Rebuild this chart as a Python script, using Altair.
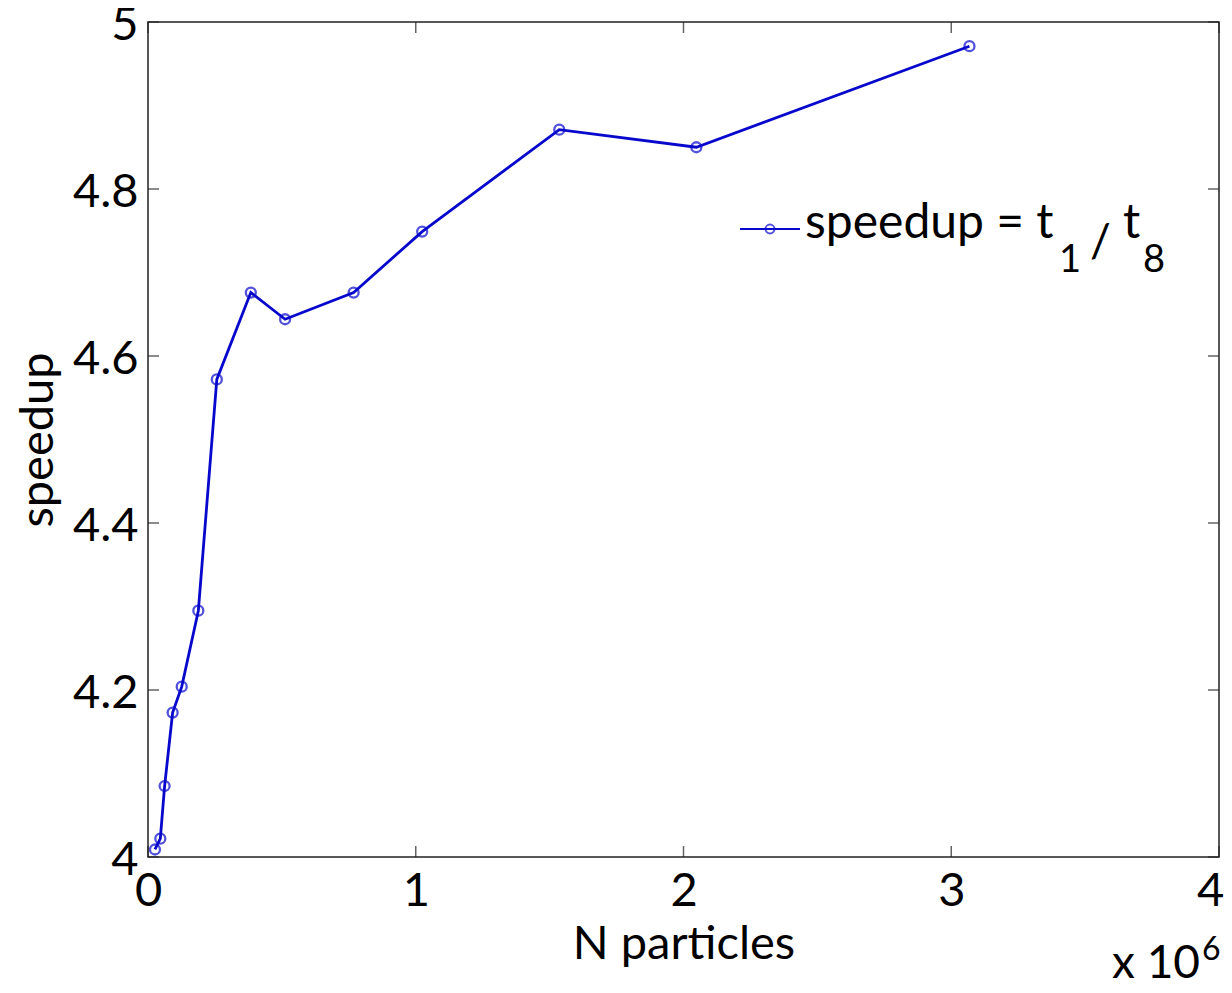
import altair as alt
import pandas as pd

# Data (N particles in units of 1e6, speedup)
n_particles = [0.026, 0.046, 0.062, 0.092, 0.126, 0.188, 0.257, 0.384, 0.512, 0.768, 1.024, 1.536, 2.048, 3.068]
speedup = [4.009, 4.022, 4.085, 4.173, 4.204, 4.295, 4.572, 4.676, 4.644, 4.676, 4.749, 4.871, 4.850, 4.971]

x_ticks = [0, 1, 2, 3, 4]
y_ticks = [4.0, 4.2, 4.4, 4.6, 4.8, 5.0]

W, H = 1071, 835
FONT = "Lato"
FS = 47
BLUE = "#0808cc"

df = pd.DataFrame({"n": n_particles, "s": speedup})
xt = pd.DataFrame({"v": x_ticks})
yt = pd.DataFrame({"v": y_ticks})

xscale = alt.Scale(domain=[0, 4], nice=False, zero=False)
yscale = alt.Scale(domain=[4, 5], nice=False, zero=False)

base = alt.Chart(df)

line = base.mark_line(color=BLUE, strokeWidth=2.8).encode(
    x=alt.X("n:Q", scale=xscale,
            axis=alt.Axis(values=x_ticks, format="d", title="N particles",
                          ticks=False, domain=False, grid=False, labelFlush=False,
                          labelOffset={"condition": {"test": "datum.value == 4", "value": -9}, "value": 0},
                          labelFont=FONT, labelFontSize=FS, labelColor="black",
                          labelPadding=11,
                          titleFont=FONT, titleFontSize=FS, titleFontWeight="normal",
                          titleColor="black", titleX=W / 2, titleY=101,
                          titleBaseline="alphabetic")),
    y=alt.Y("s:Q", scale=yscale,
            axis=alt.Axis(values=y_ticks, format=".1~f", title="speedup",
                          ticks=False, domain=False, grid=False, labelFlush=False,
                          labelOffset=3,
                          labelFont=FONT, labelFontSize=FS, labelColor="black",
                          labelPadding=10,
                          titleFont=FONT, titleFontSize=FS, titleFontWeight="normal",
                          titleColor="black", titleX=-96, titleY=H / 2,
                          titleBaseline="alphabetic")),
)

pts = base.mark_point(shape="circle", filled=False, color=BLUE, size=100, strokeWidth=2.3).encode(
    x=alt.X("n:Q", scale=xscale), y=alt.Y("s:Q", scale=yscale)
)

TL = 11
tick_style = dict(color="#222222", thickness=1.5, size=TL)
yt_left = alt.Chart(yt).mark_tick(orient="horizontal", **tick_style).encode(
    y=alt.Y("v:Q", scale=yscale), x=alt.value(TL / 2))
yt_right = alt.Chart(yt).mark_tick(orient="horizontal", **tick_style).encode(
    y=alt.Y("v:Q", scale=yscale), x=alt.value(W - TL / 2))
xt_bottom = alt.Chart(xt).mark_tick(orient="vertical", **tick_style).encode(
    x=alt.X("v:Q", scale=xscale), y=alt.value(H - TL / 2))
xt_top = alt.Chart(xt).mark_tick(orient="vertical", **tick_style).encode(
    x=alt.X("v:Q", scale=xscale), y=alt.value(TL / 2))

# Legend (no box)
leg_line = alt.Chart(pd.DataFrame({"a": [0]})).mark_rule(color=BLUE, strokeWidth=2.2).encode(
    x=alt.value(592), x2=alt.value(652), y=alt.value(207))
leg_pt = alt.Chart(pd.DataFrame({"a": [0]})).mark_point(
    shape="circle", filled=False, color=BLUE, size=80, strokeWidth=2).encode(
    x=alt.value(622), y=alt.value(207))

def txt(t, x, y, size, align="left"):
    return alt.Chart(pd.DataFrame({"t": [t]})).mark_text(
        font=FONT, fontSize=size, color="black", align=align, baseline="alphabetic").encode(
        text="t:N", x=alt.value(x), y=alt.value(y))

leg_txt = [
    txt("speedup = t", 657, 216, 48),
    txt("1", 911, 250, 38),
    txt("/", 942, 235, 46),
    txt("t", 975, 216, 48),
    txt("8", 995, 250, 38),
]

mult = [txt("x 10", 964, 956, 46), txt("6", 1054, 938, 32)]

chart = alt.layer(
    line, pts, yt_left, yt_right, xt_bottom, xt_top, leg_line, leg_pt, *leg_txt, *mult
).properties(
    width=W, height=H,
    autosize=alt.AutoSizeParams(type="none"),
    padding={"left": 140, "top": 14, "right": 5, "bottom": 128},
).configure_view(stroke="#222222", strokeWidth=1.5)

chart.save("out.html", embed_options={"renderer": "svg", "actions": False})
